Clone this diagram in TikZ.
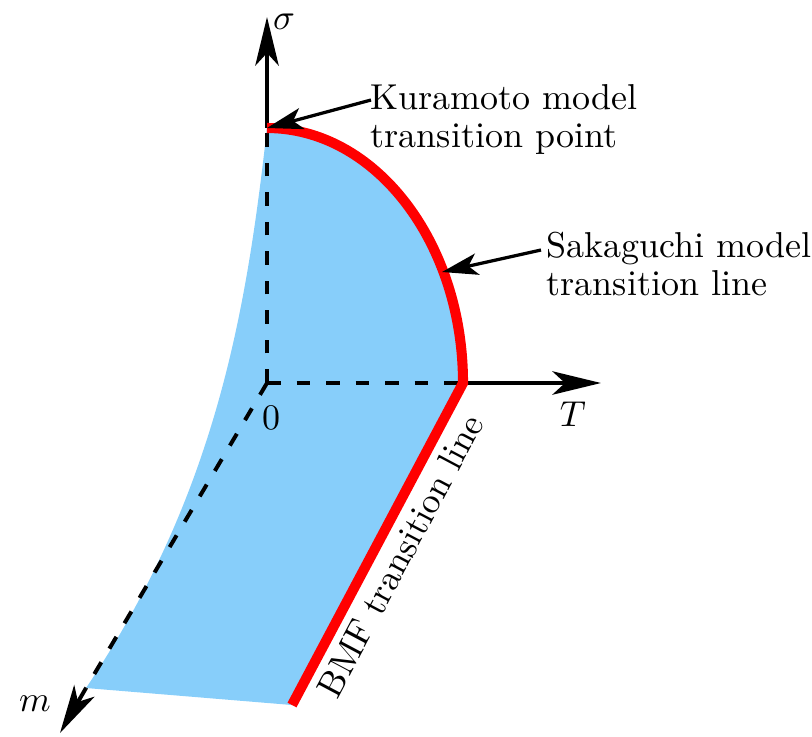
\documentclass[tikz,border=0pt]{standalone}
\usetikzlibrary{arrows.meta}
\definecolor{fillblue}{RGB}{135,206,250}
\begin{document}
\begin{tikzpicture}[x=0.2778pt,y=-0.2778pt,
  axis/.style={line width=1.1pt, -{Stealth[length=13.5pt,width=6.5pt,inset=3.5pt]}},
  dashaxis/.style={line width=1.1pt, dash pattern=on 3.8pt off 4.4pt},
  redline/.style={red, line width=2.8pt, line join=miter},
  pointer/.style={line width=0.9pt, -{Stealth[length=10pt,width=6pt,inset=2.5pt]}},
  lbl/.style={font={\fontsize{10}{10.6}\selectfont}, align=left, inner sep=0pt, anchor=north west},
  mathlbl/.style={font={\fontsize{10}{12}\selectfont}, inner sep=0pt}]
\useasboundingbox (0,0) rectangle (812,736);
% key points
\coordinate (O) at (267,383);
\coordinate (K) at (267,128);
\coordinate (C) at (463,383);
\coordinate (D) at (292,705);
\coordinate (M) at (86,688);
\coordinate (sigtip) at (267,17);
\coordinate (Ttip) at (601,383);
\coordinate (mtip) at (60,733);
\coordinate (SP) at (442,272);
% surface
\fill[fillblue] (K) .. controls (375,128) and (463,242) .. (C) -- (D) -- (M)
  .. controls (218,492) and (247,305) .. (K) -- cycle;
% dashed axes
\draw[dashaxis] (O) -- (K);
\draw[dashaxis] (O) -- (C);
\draw[dashaxis] (O) -- (M);
% solid axes
\draw[axis] (K) -- (sigtip);
\draw[axis] (C) -- (Ttip);
\draw[axis] (M) -- (mtip);
% red transition lines
\draw[redline] (K) .. controls (375,128) and (463,242) .. (C) -- (D);
% labels
\node[mathlbl] (sig) at (284,22) {$\sigma$};
\node[mathlbl] (Tl) at (573,414) {$T$};
\node[mathlbl] (zero) at (271,418) {$0$};
\node[mathlbl] (ml) at (35,704) {$m$};
\node[lbl] (kur) at (370,84) {Kuramoto model\\transition point};
\node[lbl] (sak) at (546,231) {Sakaguchi model\\transition line};
\coordinate (ka) at (371,100);
\coordinate (sa) at (541,250);
\draw[pointer] (ka) -- (K);
\draw[pointer] (sa) -- (SP);
\path (D) -- (C) node[midway, below, sloped, font={\fontsize{10}{12}\selectfont}] (bmf) {BMF transition line};
\end{tikzpicture}
\end{document}
